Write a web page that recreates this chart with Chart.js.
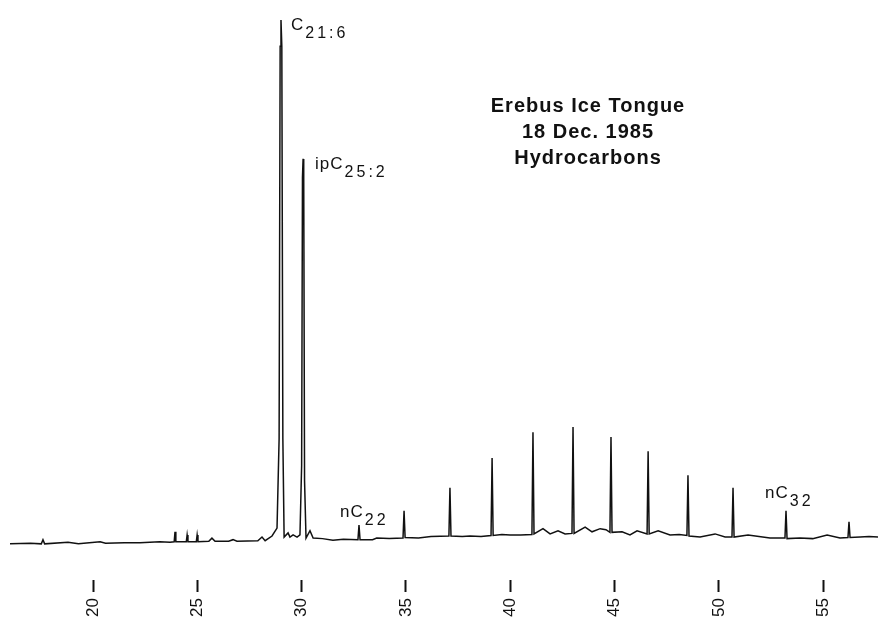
<!DOCTYPE html>
<html>
<head>
<meta charset="utf-8">
<script src="https://cdn.jsdelivr.net/npm/chart.js@4"></script>
<style>
  html, body { margin: 0; padding: 0; background: #fff; }
  #wrap { width: 878px; height: 622px; position: relative; }
</style>
</head>
<body>
<div id="wrap"><canvas id="gc"></canvas></div>
<script>
// retention time (min) and detector response (% of largest peak)
const retentionTimes = [
  16.02, 17.00, 17.52, 17.60, 17.68, 18.80, 19.30, 20.34, 20.60, 21.50,
  22.25, 23.20, 23.69, 23.89, 23.93, 23.97, 24.47, 24.51, 24.55, 24.95,
  24.99, 25.03, 25.55, 25.70, 25.85, 26.50, 26.71, 26.90, 27.90, 28.10,
  28.25, 28.58, 28.82, 28.92, 28.97, 29.01, 29.05, 29.10, 29.16, 29.35,
  29.44, 29.59, 29.78, 29.92, 30.00, 30.04, 30.07, 30.10, 30.14, 30.21,
  30.40, 30.55, 31.00, 31.50, 32.00, 32.70, 32.75, 32.80, 33.40, 33.60,
  34.20, 34.86, 34.91, 34.96, 35.60, 36.20, 37.06, 37.11, 37.16, 37.70,
  38.07, 38.60, 39.08, 39.13, 39.18, 39.60, 39.99, 40.50, 41.04, 41.09,
  41.14, 41.57, 41.91, 42.29, 42.63, 42.96, 43.01, 43.06, 43.59, 43.92,
  44.31, 44.59, 44.78, 44.83, 44.88, 45.36, 45.74, 46.08, 46.56, 46.61,
  46.66, 47.09, 47.66, 48.10, 48.47, 48.52, 48.57, 49.10, 49.82, 50.30,
  50.63, 50.68, 50.73, 51.40, 52.45, 53.17, 53.22, 53.27, 53.89, 54.50,
  55.19, 55.81, 56.19, 56.24, 56.29, 56.77, 57.20, 57.63
];
const responses = [
  0.0, 0.1, 0.0, 0.8, 0.0, 0.3, 0.0, 0.4, 0.1, 0.2,
  0.2, 0.4, 0.3, 0.4, 2.3, 0.4, 0.4, 1.7, 0.4, 0.4,
  1.7, 0.4, 0.5, 1.1, 0.5, 0.5, 0.8, 0.5, 0.6, 1.3,
  0.6, 1.5, 3.0, 20, 95, 100, 95, 20, 1.3, 2.1,
  1.3, 1.7, 1.3, 1.7, 15, 70, 73.5, 70, 12, 1.1,
  2.5, 1.1, 1.0, 0.7, 0.9, 0.8, 3.6, 0.8, 0.8, 1.1,
  1.0, 1.1, 6.3, 1.2, 1.1, 1.4, 1.5, 10.7, 1.5, 1.4,
  1.5, 1.4, 1.6, 16.4, 1.6, 1.8, 1.7, 1.7, 1.8, 21.3,
  1.9, 2.9, 1.9, 2.5, 1.9, 2.0, 22.3, 2.0, 3.2, 2.3,
  2.9, 2.7, 2.2, 20.4, 2.2, 2.3, 1.7, 2.5, 1.9, 17.7,
  1.9, 2.5, 1.7, 1.8, 1.6, 13.1, 1.5, 1.3, 1.9, 1.3,
  1.3, 10.7, 1.3, 1.7, 1.1, 1.1, 6.3, 1.0, 1.1, 1.0,
  1.7, 1.1, 1.2, 4.2, 1.2, 1.3, 1.4, 1.3
];
const tickValues = [20, 25, 30, 35, 40, 45, 50, 55];
const tickLabels = ['20', '25', '30', '35', '40', '45', '50', '55'];

// named peaks: main text, subscript, retention time, response
const peakNames = ['C', 'ipC', 'nC', 'nC'];
const peakSubs = ['21:6', '25:2', '22', '32'];
const peakTimes = [29.01, 30.07, 32.75, 53.22];
const peakTops = [100, 73.5, 3.6, 6.3];

const titleLines = ['Erebus Ice Tongue', '18 Dec. 1985', 'Hydrocarbons'];

const FONT = '"Liberation Sans", Arial, sans-serif';

// label offsets from the peak tip, in px
const labelOffsets = [[10, 10], [12, 10], [-19, -8], [-21, -13]];

const annotate = {
  id: 'annotate',
  afterDraw(chart) {
    const { ctx, scales: { x, y } } = chart;
    const hasLS = 'letterSpacing' in ctx;
    ctx.save();
    ctx.fillStyle = '#111';
    ctx.textBaseline = 'alphabetic';
    ctx.textAlign = 'left';
    peakNames.forEach((name, i) => {
      const px = x.getPixelForValue(peakTimes[i]) + labelOffsets[i][0];
      const py = y.getPixelForValue(peakTops[i]) + labelOffsets[i][1];
      if (hasLS) ctx.letterSpacing = '1px';
      ctx.font = '17px ' + FONT;
      ctx.fillText(name, px, py);
      const w = ctx.measureText(name).width;
      if (hasLS) ctx.letterSpacing = '3px';
      ctx.font = '16px ' + FONT;
      ctx.fillText(peakSubs[i], px + w + 1, py + 8);
    });
    ctx.textAlign = 'center';
    if (hasLS) ctx.letterSpacing = '1px';
    ctx.font = 'bold 20px ' + FONT;
    titleLines.forEach((line, i) => {
      ctx.fillText(line, 588, 112 + i * 26);
    });
    ctx.restore();
  }
};

new Chart(document.getElementById('gc'), {
  type: 'line',
  data: {
    datasets: [{
      data: retentionTimes.map((t, i) => ({ x: t, y: responses[i] })),
      borderColor: '#111',
      borderWidth: 1.5,
      pointRadius: 0,
      tension: 0,
      fill: false
    }]
  },
  options: {
    responsive: true,
    maintainAspectRatio: false,
    animation: false,
    layout: { padding: { top: 18, left: 0, right: 0, bottom: 0 } },
    plugins: { legend: { display: false }, tooltip: { enabled: false } },
    scales: {
      x: {
        type: 'linear',
        min: 15.54,
        max: 57.63,
        afterBuildTicks: (scale) => { scale.ticks = tickValues.map(v => ({ value: v })); },
        afterFit: (scale) => { scale.height = 42; },
        border: { display: false },
        grid: {
          drawOnChartArea: false,
          drawTicks: true,
          tickLength: 12,
          tickWidth: 2,
          tickColor: '#111'
        },
        ticks: {
          minRotation: 90,
          maxRotation: 90,
          padding: 6,
          color: '#111',
          font: { family: FONT, size: 17 },
          callback: (v) => tickLabels[tickValues.indexOf(v)]
        }
      },
      y: {
        display: false,
        min: -6.9,
        max: 100.4
      }
    }
  },
  plugins: [annotate]
});
</script>
</body>
</html>
